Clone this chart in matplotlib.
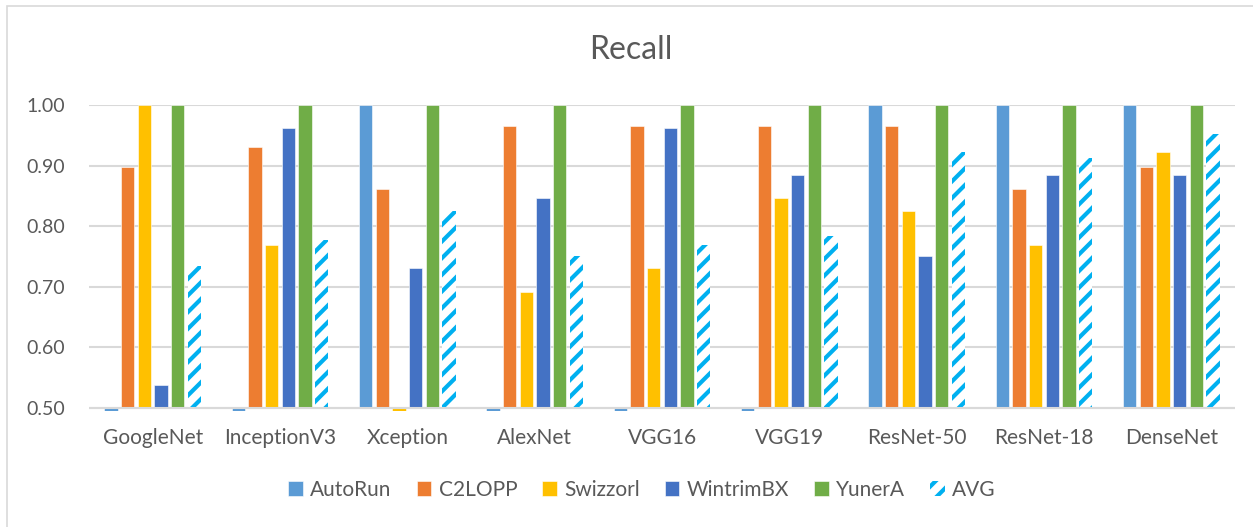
import matplotlib
matplotlib.use("Agg")
import matplotlib.pyplot as plt
import matplotlib.patches as mpatches
import numpy as np

categories = ["GoogleNet", "InceptionV3", "Xception", "AlexNet", "VGG16",
              "VGG19", "ResNet-50", "ResNet-18", "DenseNet"]
autorun = [0, 0, 1.0, 0, 0, 0, 1.0, 1.0, 1.0]
c2lopp = [0.897, 0.931, 0.862, 0.966, 0.966, 0.966, 0.966, 0.862, 0.897]
swizzorl = [1.0, 0.769, 0, 0.692, 0.731, 0.846, 0.825, 0.769, 0.923]
wintrimbx = [0.538, 0.962, 0.731, 0.846, 0.962, 0.885, 0.750, 0.885, 0.885]
yunera = [1.0, 1.0, 1.0, 1.0, 1.0, 1.0, 1.0, 1.0, 1.0]
avg = [0.734, 0.777, 0.825, 0.751, 0.769, 0.784, 0.923, 0.913, 0.952]
series_names = ["AutoRun", "C2LOPP", "Swizzorl", "WintrimBX", "YunerA", "AVG"]
yticks = [0.50, 0.60, 0.70, 0.80, 0.90, 1.00]

series = [autorun, c2lopp, swizzorl, wintrimbx, yunera, avg]
colors = ["#5B9BD5", "#ED7D31", "#FFC000", "#4472C4", "#70AD47", "#00B0F0"]

plt.rcParams['font.family'] = ['Lato', 'DejaVu Sans']
plt.rcParams['hatch.linewidth'] = 3.0
txt = "#595959"

W, H = 1253, 527
fig = plt.figure(figsize=(W / 100, H / 100), dpi=100)
ax = fig.add_axes([89 / W, 1 - 411 / H, (1235 - 89) / W, (411 - 105) / H])

base = 0.5
x = np.arange(len(categories))
step = 0.131
bw = 0.106
for i, (vals, col, name) in enumerate(zip(series, colors, series_names)):
    offs = (i - 2.5) * step
    heights = [v - base for v in vals]
    if name == "AVG":
        ax.bar(x + offs, heights, bw, bottom=base, facecolor="white",
               edgecolor=col, linewidth=0, hatch="//", label=name, zorder=3)
    else:
        ax.bar(x + offs, heights, bw, bottom=base, color=col,
               edgecolor="white", linewidth=0.4, label=name, zorder=3)

ax.set_xlim(-0.5, len(categories) - 0.5)
ax.set_ylim(0.495, 1.0)
ax.set_yticks(yticks)
ax.set_yticklabels([f"{t:.2f}" for t in yticks])
ax.set_xticks(x)
ax.set_xticklabels(categories)
for s in ax.spines.values():
    s.set_visible(False)
ax.grid(axis="y", color="#D9D9D9", linewidth=1.5, zorder=0)
ax.axhline(0.5, color="#D9D9D9", linewidth=1.5, zorder=4)
ax.tick_params(axis="y", length=0, pad=17, labelsize=14, labelcolor=txt)
ax.tick_params(axis="x", length=0, pad=12, labelsize=15, labelcolor=txt)

fig.text(631 / W, 1 - 50 / H, "Recall", ha="center", va="center",
         fontsize=23, color=txt)

handles, labels = ax.get_legend_handles_labels()
leg = fig.legend(handles, labels, loc="center", bbox_to_anchor=(642 / W, 1 - 490 / H),
                 ncol=6, frameon=False, fontsize=15, handlelength=0.7,
                 handleheight=0.7, handletextpad=0.35, columnspacing=1.2)
for t in leg.get_texts():
    t.set_color(txt)

fig.patches.append(mpatches.Rectangle((7 / W, -0.02), 1.0, 1 - 6 / H + 0.02,
                                      transform=fig.transFigure, fill=False,
                                      edgecolor="#D9D9D9", linewidth=1.2))

fig.savefig("out.png", dpi=100, facecolor="white")
